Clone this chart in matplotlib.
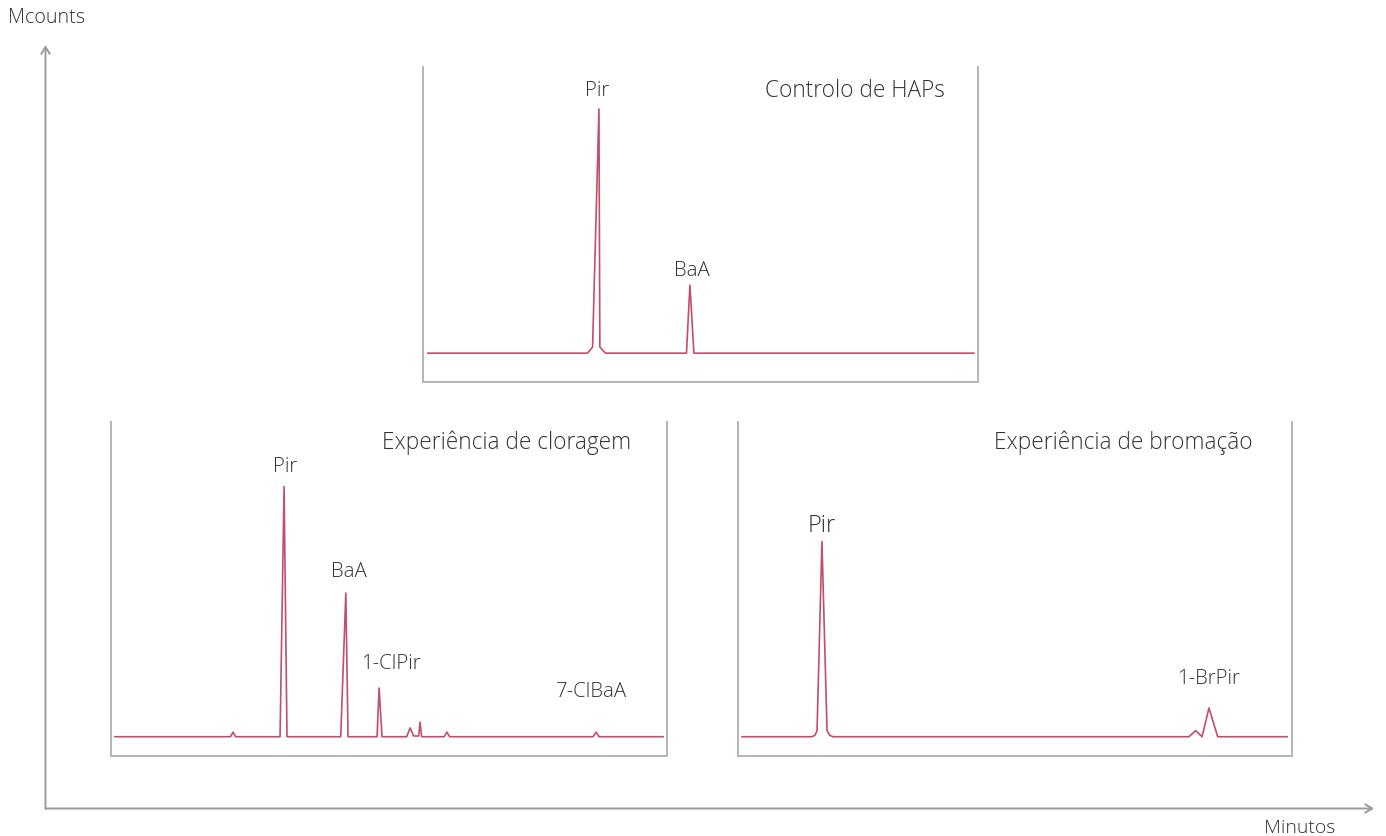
import matplotlib
matplotlib.use("Agg")
import matplotlib.pyplot as plt

# ---------------- data (minutes, Mcounts - schematic units) ----------------
ctrl_t = [0.0, 8.77, 9.05, 9.40, 9.45, 9.76, 14.21, 14.40, 14.62, 30.0]
ctrl_y = [0.0, 0.0, 2.5, 100.0, 2.5, 0.0, 0.0, 27.9, 0.0, 0.0]
ctrl_labels = ["Pir", "BaA"]
ctrl_label_t = [9.29, 14.50]
ctrl_label_y = [105.3, 31.6]

clor_t = [0.0, 6.32, 6.46, 6.60, 9.03, 9.25, 9.41, 12.35, 12.63, 12.75,
          14.34, 14.45, 14.61, 15.96, 16.15, 16.34, 16.62, 16.69, 16.78,
          18.01, 18.16, 18.31, 26.16, 26.33, 26.49, 30.0]
clor_y = [0.0, 0.0, 1.9, 0.0, 0.0, 102.5, 0.0, 0.0, 58.9, 0.0,
          0.0, 20.0, 0.0, 0.0, 3.6, 0.3, 0.3, 6.0, 0.0,
          0.0, 1.9, 0.0, 0.0, 1.9, 0.0, 0.0]
clor_labels = ["Pir", "BaA", "1-ClPir", "7-ClBaA"]
clor_label_t = [9.28, 12.78, 15.10, 26.07]
clor_label_y = [108.5, 65.4, 27.7, 16.3]

brom_t = [0.0, 3.85, 4.02, 4.13, 4.40, 4.68, 4.82, 5.01, 24.60, 24.97,
          25.32, 25.70, 26.18, 30.0]
brom_y = [0.0, 0.0, 0.6, 2.5, 80.0, 2.5, 0.6, 0.0, 0.0, 2.5,
          0.0, 11.8, 0.0, 0.0]
brom_labels = ["Pir", "1-BrPir"]
brom_label_t = [4.375, 25.70]
brom_label_y = [83.9, 21.6]

titles = ["Controlo de HAPs", "Experiência de cloragem", "Experiência de bromação"]

# ---------------- styling ----------------
W, H = 1386, 836
TRACE = "#c24f67"
FRAME = "#b4b4b4"
AXIS = "#9a9a9a"
TXT = "#333333"
FONT = ["Open Sans", "DejaVu Sans"]
WT = "light"

plt.rcParams["font.family"] = FONT

fig = plt.figure(figsize=(W / 100, H / 100), dpi=100)


def rect(l, t, r, b):
    return [l / W, 1 - b / H, (r - l) / W, (b - t) / H]


def panel(box, xlim, ylim):
    ax = fig.add_axes(rect(*box))
    ax.set_xlim(*xlim)
    ax.set_ylim(*ylim)
    for s in ["left", "right", "bottom"]:
        ax.spines[s].set_color(FRAME)
        ax.spines[s].set_linewidth(1.4)
    ax.spines["top"].set_visible(False)
    ax.set_xticks([])
    ax.set_yticks([])
    ax.patch.set_alpha(0)
    return ax


LBL = 14.7
TTL = 16.3

# top panel
ax1 = panel((423, 67, 978.5, 381.5), (-0.27, 30.26), (-11.6, 117.2))
ax1.plot(ctrl_t, ctrl_y, color=TRACE, lw=1.2)
for lab, t, y in zip(ctrl_labels, ctrl_label_t, ctrl_label_y):
    ax1.text(t, y, lab, ha="center", va="baseline", fontsize=LBL, color=TXT, fontweight=WT)
ax1.text(0.9397, 0.9046, titles[0], transform=ax1.transAxes, ha="right",
         va="baseline", fontsize=TTL, color=TXT, fontweight=WT)

# bottom-left panel
ax2 = panel((110.5, 422, 666.5, 756), (-0.25, 30.18), (-7.9, 129.0))
ax2.plot(clor_t, clor_y, color=TRACE, lw=1.2)
for lab, t, y in zip(clor_labels, clor_label_t, clor_label_y):
    ax2.text(t, y, lab, ha="center", va="baseline", fontsize=LBL, color=TXT, fontweight=WT)
ax2.text(0.936, 0.919, titles[1], transform=ax2.transAxes, ha="right",
         va="baseline", fontsize=TTL, color=TXT, fontweight=WT)

# bottom-right panel
ax3 = panel((738, 422, 1292, 756), (-0.22, 30.27), (-7.9, 129.0))
ax3.plot(brom_t, brom_y, color=TRACE, lw=1.2)
for lab, t, y in zip(brom_labels, brom_label_t, brom_label_y):
    fs = 17 if lab == "Pir" else LBL
    ax3.text(t, y, lab, ha="center", va="baseline", fontsize=fs, color=TXT, fontweight=WT)
ax3.text(0.9296, 0.919, titles[2], transform=ax3.transAxes, ha="right",
         va="baseline", fontsize=TTL, color=TXT, fontweight=WT)


def fx(px):
    return px / W


def fy(py):
    return 1 - py / H


fig.add_artist(matplotlib.patches.FancyArrowPatch(
    (fx(45.5), fy(809)), (fx(45.5), fy(45)), transform=fig.transFigure,
    arrowstyle="->,head_length=5,head_width=3", color=AXIS, lw=1.4,
    mutation_scale=1, shrinkA=0, shrinkB=0))
fig.add_artist(matplotlib.patches.FancyArrowPatch(
    (fx(45.5), fy(808.5)), (fx(1374), fy(808.5)), transform=fig.transFigure,
    arrowstyle="->,head_length=5,head_width=3", color=AXIS, lw=1.4,
    mutation_scale=1, shrinkA=0, shrinkB=0))

fig.text(fx(8), fy(18), "Mcounts", ha="left", va="center", fontsize=14.2, color=TXT, fontweight=WT)
fig.text(fx(1335), fy(828), "Minutos", ha="right", va="center", fontsize=14, color=TXT, fontweight=WT)

fig.savefig("out.png", dpi=100)
